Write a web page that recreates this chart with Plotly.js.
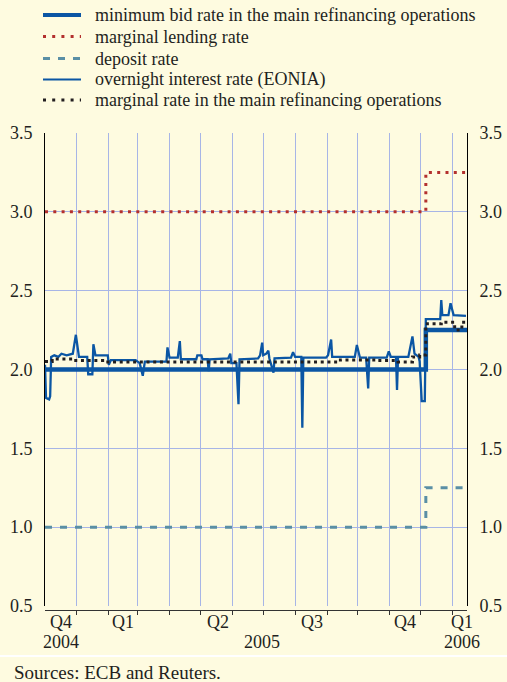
<!DOCTYPE html>
<html><head><meta charset="utf-8">
<script src="https://cdn.plot.ly/plotly-3.0.1.min.js"></script>
<style>html,body{margin:0;padding:0;background:#FEFBE0;} #chart{width:507px;height:682px;}</style>
</head><body><div id="chart"></div>
<script>
// ---- data ----
const policyDates = ["2004-12-01", "2005-12-06", "2006-01-15"];
const minBidRate = [2.00, 2.25, 2.25];
const marginalLendingRate = [3.00, 3.25, 3.25];
const depositRate = [1.00, 1.25, 1.25];

const eoniaDates = [
 "2004-12-01","2004-12-02","2004-12-05","2004-12-06","2004-12-07","2004-12-10","2004-12-14","2004-12-17","2004-12-22","2004-12-28","2004-12-31",
 "2005-01-03","2005-01-11","2005-01-12","2005-01-16","2005-01-17","2005-01-19","2005-01-31","2005-02-01","2005-02-03","2005-02-27",
 "2005-03-03","2005-03-06","2005-03-08","2005-03-29","2005-03-30","2005-04-01","2005-04-09","2005-04-11","2005-04-12","2005-04-27",
 "2005-04-28","2005-05-02","2005-05-03","2005-05-08","2005-05-09","2005-05-10","2005-05-28","2005-05-30","2005-05-31","2005-06-05",
 "2005-06-07","2005-06-08","2005-06-26","2005-06-28","2005-06-30","2005-07-01","2005-07-04","2005-07-06","2005-07-07","2005-07-11",
 "2005-07-12","2005-07-28","2005-07-30","2005-08-01","2005-08-07","2005-08-08","2005-08-09","2005-08-31","2005-09-02","2005-09-05",
 "2005-09-06","2005-09-28","2005-09-30","2005-10-03","2005-10-09","2005-10-11","2005-10-12","2005-10-29","2005-10-31","2005-11-02",
 "2005-11-07","2005-11-08","2005-11-09","2005-11-19","2005-11-23","2005-11-25","2005-11-29","2005-11-30","2005-12-02","2005-12-05",
 "2005-12-06","2005-12-20","2005-12-21","2005-12-22","2005-12-28","2005-12-30","2006-01-02","2006-01-14"];
const eoniaValues = [
 2.03,1.82,1.81,1.83,2.08,2.09,2.08,2.10,2.09,2.10,2.22,
 2.08,2.08,1.97,1.97,2.16,2.09,2.09,2.03,2.06,2.06,
 2.04,1.96,2.05,2.05,2.14,2.075,2.075,2.18,2.065,2.065,
 2.09,2.09,2.065,2.065,1.99,2.065,2.07,2.10,2.04,2.04,
 1.78,2.065,2.07,2.09,2.17,2.09,2.10,2.12,2.07,1.98,
 2.07,2.075,2.11,2.08,2.08,1.63,2.075,2.075,2.09,2.19,
 2.08,2.08,2.155,2.075,2.075,1.88,2.075,2.075,2.115,2.08,
 2.08,1.87,2.08,2.08,2.21,2.10,2.08,2.05,1.80,1.80,
 2.32,2.32,2.44,2.345,2.345,2.42,2.345,2.34];

const marginalMroDates = ["2004-12-01","2004-12-08","2004-12-29","2005-01-26","2005-09-14","2005-10-19","2005-11-09","2005-11-23","2005-11-30","2005-12-06","2005-12-21","2006-01-03","2006-01-10","2006-01-15"];
const marginalMroValues = [2.05,2.067,2.057,2.048,2.061,2.057,2.048,2.08,2.092,2.29,2.30,2.25,2.30,2.30];

const seriesNames = ["minimum bid rate in the main refinancing operations","marginal lending rate","deposit rate","overnight interest rate (EONIA)","marginal rate in the main refinancing operations"];
const monthTicks = ["2005-01-01","2005-02-01","2005-03-01","2005-04-01","2005-05-01","2005-06-01","2005-07-01","2005-08-01","2005-09-01","2005-10-01","2005-11-01","2005-12-01","2006-01-01"];
const quarterLabels = ["Q4","Q1","Q2","Q3","Q4","Q1"];
const quarterDates = ["2004-12-17","2005-02-15","2005-05-18","2005-08-17","2005-11-16","2006-01-10"];
const yearLabels = ["2004","2005","2006"];
const yearDates = ["2004-12-17","2005-06-30","2006-01-10"];
const yTicks = [0.5,1.0,1.5,2.0,2.5,3.0,3.5];
const sourceText = "Sources: ECB and Reuters.";

// ---- styling ----
const BLUE = "#0b56a4", RED = "#b3302e", TEAL = "#5a8fa5", BLACK = "#231f20";
const FONT = "Liberation Serif";
const TXT = "#231f20";
const W = 507, H = 682, L = 45, R = 467, T = 133, B = 610, PB = 606;
const px = x => (x - L) / (R - L);
const py = y => (B - y) / (B - T);

const traces = [
 {x: policyDates, y: depositRate, mode: "lines", line: {shape: "hv", color: TEAL, width: 3, dash: "7px,8px"}, name: seriesNames[2]},
 {x: policyDates, y: marginalLendingRate, mode: "lines", line: {shape: "hv", color: RED, width: 3, dash: "3px,5.3px"}, name: seriesNames[1]},
 {x: policyDates, y: minBidRate, mode: "lines", line: {shape: "hv", color: BLUE, width: 4.5}, name: seriesNames[0]},
 {x: eoniaDates, y: eoniaValues, mode: "lines", line: {color: BLUE, width: 2.3}, name: seriesNames[3]},
 {x: marginalMroDates, y: marginalMroValues, mode: "lines", line: {shape: "hv", color: BLACK, width: 3, dash: "3px,3.7px"}, name: seriesNames[4]},
 {x: [policyDates[0]], y: [2], yaxis: "y2", mode: "lines", showlegend: false, hoverinfo: "skip", line: {width: 0}}
];

const legendStyles = [
 {color: BLUE, width: 4, dash: "solid"},
 {color: RED, width: 3, dash: "3px,6.2px"},
 {color: TEAL, width: 3, dash: "7px,8px"},
 {color: BLUE, width: 2, dash: "solid"},
 {color: BLACK, width: 3, dash: "3px,6.2px"}
];
const legendY = [15, 36.5, 58.5, 79.5, 100];

const shapes = [];
const annotations = [];
seriesNames.forEach((n, i) => {
  shapes.push({type: "line", xref: "paper", yref: "paper", x0: px(43), x1: px(81), y0: py(legendY[i]), y1: py(legendY[i]), line: legendStyles[i]});
  annotations.push({xref: "paper", yref: "paper", x: px(93), y: py(legendY[i]), xanchor: "left", yanchor: "middle", text: n, showarrow: false, font: {family: FONT, size: 18, color: TXT}});
});
quarterLabels.forEach((q, i) => {
  annotations.push({xref: "x", yref: "paper", x: quarterDates[i], y: py(622), xanchor: "center", yanchor: "middle", text: q, showarrow: false, font: {family: FONT, size: 18, color: TXT}});
});
yearLabels.forEach((q, i) => {
  annotations.push({xref: "x", yref: "paper", x: yearDates[i], y: py(642), xanchor: "center", yanchor: "middle", text: q, showarrow: false, font: {family: FONT, size: 18, color: TXT}});
});
annotations.push({xref: "paper", yref: "paper", x: px(12), y: py(672), xanchor: "left", yanchor: "middle", text: sourceText, showarrow: false, font: {family: FONT, size: 19, color: TXT}});
shapes.push({type: "line", xref: "paper", yref: "paper", x0: px(0), x1: px(W), y0: py(656), y1: py(656), line: {color: "#ffffff", width: 2}});

const yCommon = {range: [0.5, 3.5], tickvals: yTicks, tickformat: ".1f", showline: true, linecolor: "#000", linewidth: 1,
  ticks: "", ticklabelstandoff: 8, zeroline: false, tickfont: {family: FONT, size: 18, color: TXT}, fixedrange: true};

const layout = {
  width: W, height: H,
  font: {family: FONT, size: 18, color: TXT},
  paper_bgcolor: "#FEFBE0", plot_bgcolor: "#FEFBE0",
  margin: {l: L, r: W - R, t: T, b: H - B, pad: 0},
  showlegend: false,
  xaxis: {type: "date", range: ["2004-12-01", "2006-01-15"], tickvals: monthTicks, ticktext: monthTicks.map(() => ""),
    showgrid: true, gridcolor: "#a7b5e6", gridwidth: 1, showline: true, linecolor: "#333", linewidth: 1,
    ticks: "outside", ticklen: 4, tickcolor: "#333", anchor: "free", position: 0, zeroline: false},
  yaxis: Object.assign({}, yCommon, {domain: [(B - PB) / (B - T), 1], showgrid: true, gridcolor: "#a7b5e6", gridwidth: 1, side: "left"}),
  yaxis2: Object.assign({}, yCommon, {overlaying: "y", side: "right", showgrid: false}),
  shapes: shapes, annotations: annotations
};

Plotly.newPlot("chart", traces, layout, {staticPlot: true, displayModeBar: false});
</script>
</body></html>
